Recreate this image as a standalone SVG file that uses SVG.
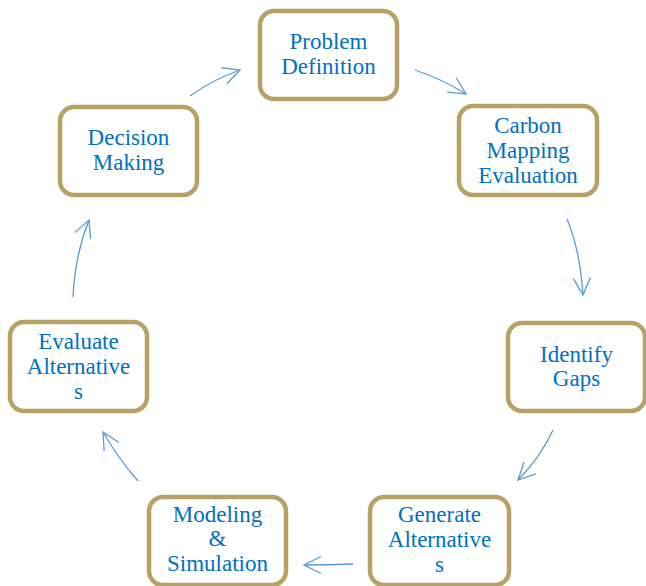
<svg xmlns="http://www.w3.org/2000/svg" width="646" height="586" viewBox="0 0 646 586">
<defs>
<style>
.box{fill:#fff;stroke:#B6A266;stroke-width:4.5}
.t{font-size:23px;fill:#0070C0;text-anchor:middle}
.c{fill:none;stroke:#5B9BD5;stroke-width:1.3;marker-end:url(#ah)}
</style>
<marker id="ah" markerUnits="userSpaceOnUse" markerWidth="24" markerHeight="24" viewBox="-20 -12 24 24" refX="0" refY="0" orient="auto">
<path d="M-17,-8.5 L0,0 L-17,8.5" fill="none" stroke="#5B9BD5" stroke-width="1.3"/>
</marker>
</defs>
<rect width="646" height="586" fill="#fff"/>
<g id="connectors">
<path class="c" d="M190,96 Q212,80 240,70"/>
<path class="c" d="M415,70 Q442,79 466,94"/>
<path class="c" d="M567,219 Q580,250 583,295"/>
<path class="c" d="M553,430 Q540,458 518,480"/>
<path class="c" d="M353,564 Q330,565 304,565"/>
<path class="c" d="M138,481 Q118,458 103,432"/>
<path class="c" d="M73,297 Q75,255 89,220"/>
</g>
<g font-family="Liberation Serif, serif">
<g id="problem-definition">
<rect class="box" x="260" y="11" width="137" height="88" rx="14"/>
<text class="t" x="328.5" y="49">Problem</text>
<text class="t" x="328.5" y="74">Definition</text>
</g>
<g id="carbon-mapping">
<rect class="box" x="459" y="106" width="138" height="89" rx="14"/>
<text class="t" x="528" y="133">Carbon</text>
<text class="t" x="528" y="158">Mapping</text>
<text class="t" x="528" y="183">Evaluation</text>
</g>
<g id="identify-gaps">
<rect class="box" x="508" y="323" width="137" height="88" rx="14"/>
<text class="t" x="576.5" y="362">Identify</text>
<text class="t" x="576.5" y="386">Gaps</text>
</g>
<g id="generate-alternatives">
<rect class="box" x="370" y="497" width="139" height="88" rx="14"/>
<text class="t" x="439.5" y="522">Generate</text>
<text class="t" x="439.5" y="547">Alternative</text>
<text class="t" x="439.5" y="572">s</text>
</g>
<g id="modeling-simulation">
<rect class="box" x="149" y="497" width="137" height="88" rx="14"/>
<text class="t" x="217.5" y="522">Modeling</text>
<text class="t" x="217.5" y="546">&amp;</text>
<text class="t" x="217.5" y="571">Simulation</text>
</g>
<g id="evaluate-alternatives">
<rect class="box" x="10" y="322" width="137" height="89" rx="14"/>
<text class="t" x="78.5" y="349">Evaluate</text>
<text class="t" x="78.5" y="374">Alternative</text>
<text class="t" x="78.5" y="399">s</text>
</g>
<g id="decision-making">
<rect class="box" x="60" y="107" width="137" height="88" rx="14"/>
<text class="t" x="128.5" y="145">Decision</text>
<text class="t" x="128.5" y="170">Making</text>
</g>
</g>
</svg>
